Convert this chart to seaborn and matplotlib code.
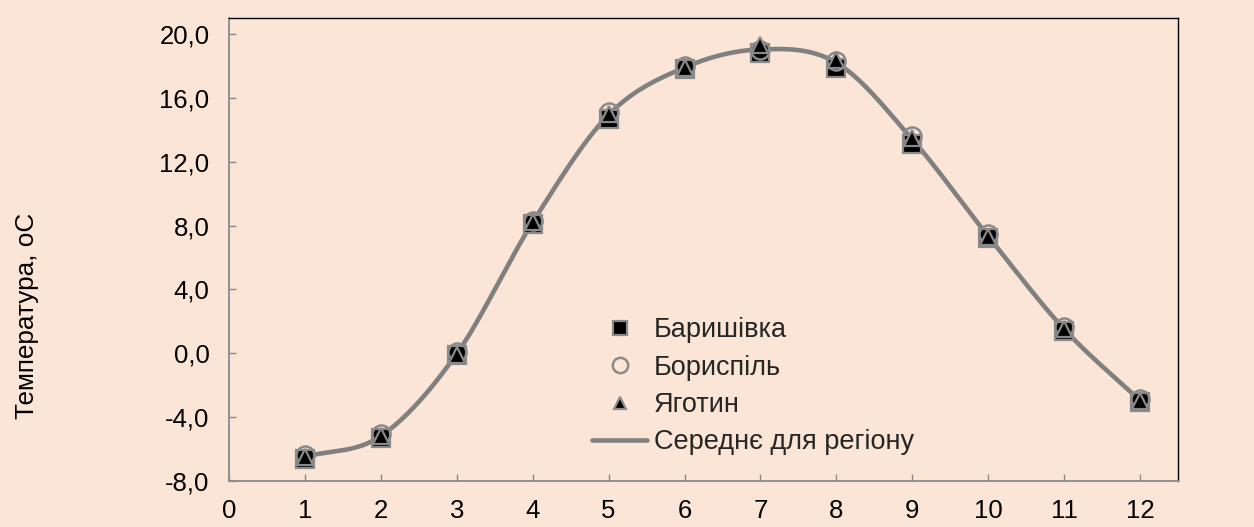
import numpy as np
import pandas as pd
import matplotlib
matplotlib.use("Agg")
import matplotlib.pyplot as plt
import seaborn as sns

# ---- data ----
months = [1, 2, 3, 4, 5, 6, 7, 8, 9, 10, 11, 12]
baryshivka = [-6.6, -5.3, -0.1, 8.1, 14.7, 17.8, 18.8, 17.9, 13.1, 7.2, 1.4, -3.05]
boryspil = [-6.35, -5.05, 0.1, 8.3, 15.1, 18.0, 19.0, 18.3, 13.6, 7.5, 1.65, -2.85]
yahotyn = [-6.5, -5.2, -0.1, 8.2, 15.0, 17.9, 19.3, 18.4, 13.5, 7.3, 1.5, -3.0]
x_ticks = list(range(0, 13))
y_ticks = [-8, -4, 0, 4, 8, 12, 16, 20]
labels = ["Баришівка", "Бориспіль", "Яготин", "Середнє для регіону"]
y_title = "Температура, оС"

mean_vals = (np.array(baryshivka) + np.array(boryspil) + np.array(yahotyn)) / 3.0


def catmull_rom(x, y, n=30):
    x = np.asarray(x, float)
    y = np.asarray(y, float)
    px = np.concatenate([[2 * x[0] - x[1]], x, [2 * x[-1] - x[-2]]])
    py = np.concatenate([[2 * y[0] - y[1]], y, [2 * y[-1] - y[-2]]])
    xs, ys = [], []
    for i in range(1, len(px) - 2):
        t = np.linspace(0, 1, n, endpoint=(i == len(px) - 3))
        for P, out in ((px, xs), (py, ys)):
            p0, p1, p2, p3 = P[i - 1], P[i], P[i + 1], P[i + 2]
            out.extend(0.5 * ((2 * p1) + (-p0 + p2) * t
                              + (2 * p0 - 5 * p1 + 4 * p2 - p3) * t ** 2
                              + (-p0 + 3 * p1 - 3 * p2 + p3) * t ** 3))
    return np.array(xs), np.array(ys)


sx, sy = catmull_rom(months, mean_vals)

bg = "#FBE5D6"
edge = "#8a8a8a"

sns.set_theme(style="ticks")
plt.rcParams["font.family"] = ["Liberation Sans", "DejaVu Sans"]

fig = plt.figure(figsize=(12.54, 5.27), dpi=100, facecolor=bg)
ax = fig.add_axes([0.1826, 0.0873, 0.7568, 0.8785])
ax.set_facecolor(bg)

sns.lineplot(x=sx, y=sy, ax=ax, sort=False, estimator=None, color="#808080",
             linewidth=3.3, zorder=1, label=labels[3])
sns.lineplot(x=months, y=baryshivka, ax=ax, estimator=None, linestyle="",
             marker="s", markersize=12.5, color="black", markerfacecolor="black",
             markeredgecolor=edge, markeredgewidth=1.6, zorder=3, label=labels[0])
sns.lineplot(x=months, y=boryspil, ax=ax, estimator=None, linestyle="",
             marker="o", markersize=13, color=edge, markerfacecolor="none",
             markeredgecolor=edge, markeredgewidth=1.8, zorder=4, label=labels[1])
sns.lineplot(x=months, y=yahotyn, ax=ax, estimator=None, linestyle="",
             marker="^", markersize=11, color="black", markerfacecolor="black",
             markeredgecolor=edge, markeredgewidth=1.6, zorder=5, label=labels[2])

ax.set_xlim(0, 12.5)
ax.set_ylim(-8, 21)
ax.set_xticks(x_ticks)
ax.set_xticklabels([str(v) for v in x_ticks])
ax.set_yticks(y_ticks)
ax.set_yticklabels([f"{v:.1f}".replace(".", ",") for v in y_ticks])
ax.tick_params(direction="in", length=5, width=1, color=edge, labelsize=18.5,
               labelcolor="black")
ax.tick_params(axis="y", pad=14)
ax.tick_params(axis="x", pad=13)

for s in ("top", "right"):
    ax.spines[s].set_color("black")
    ax.spines[s].set_linewidth(1.0)
for s in ("left", "bottom"):
    ax.spines[s].set_color(edge)
    ax.spines[s].set_linewidth(1.3)

ax.set_xlabel("")
ax.set_ylabel(y_title, fontsize=18.8, color="black")
ax.yaxis.set_label_coords(-0.2, 0.356)

h, l = ax.get_legend_handles_labels()
order = [l.index(t) for t in labels]
ax.legend([h[i] for i in order], [l[i] for i in order], loc="upper left",
          bbox_to_anchor=(0.3716, 0.377), frameon=False, fontsize=19.5,
          handlelength=2.0, handletextpad=0.27, labelspacing=0.42,
          markerscale=0.85, borderaxespad=0)

fig.savefig("out.png", dpi=100, facecolor=bg)
